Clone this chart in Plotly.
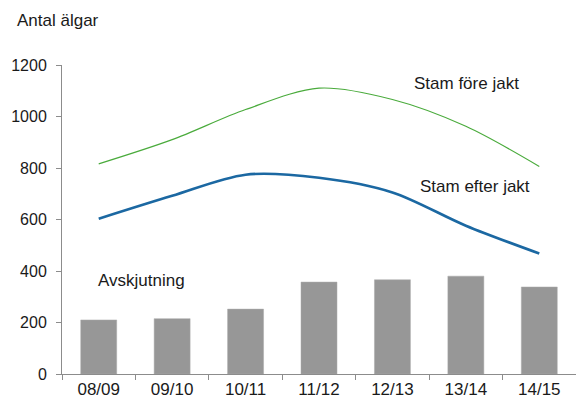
import plotly.graph_objects as go

categories = ["08/09", "09/10", "10/11", "11/12", "12/13", "13/14", "14/15"]
avskjutning = [210, 215, 252, 357, 366, 380, 338]
stam_fore = [816, 910, 1027, 1110, 1066, 962, 806]
stam_efter = [603, 692, 774, 762, 705, 576, 468]
y_ticks = [0, 200, 400, 600, 800, 1000, 1200]

font = "Liberation Sans, Arial, sans-serif"
txt = "#1a1a1a"

fig = go.Figure()
fig.add_trace(go.Bar(x=categories, y=avskjutning, marker=dict(color="#979797", line=dict(color="#aaaaaa", width=0.5)),
                     width=0.49, showlegend=False))
fig.add_trace(go.Scatter(x=categories, y=stam_fore, mode="lines",
                         line=dict(color="#4aab3c", width=1.2, shape="spline", smoothing=0.9), showlegend=False))
fig.add_trace(go.Scatter(x=categories, y=stam_efter, mode="lines",
                         line=dict(color="#1b68a2", width=2.6, shape="spline", smoothing=0.9), showlegend=False))

fig.update_layout(
    width=576, height=401,
    margin=dict(l=62, r=0, t=65, b=27),
    plot_bgcolor="white", paper_bgcolor="white",
    font=dict(family=font, size=16, color=txt),
    xaxis=dict(showline=True, linecolor="#8c8c8c", linewidth=1, ticks="outside", tickson="boundaries",
               ticklen=5, tickcolor="#8c8c8c", showgrid=False, automargin=False,
               tickfont=dict(size=17, color=txt)),
    yaxis=dict(range=[0, 1200], tickvals=y_ticks, showline=True, linecolor="#8c8c8c", linewidth=1,
               ticks="outside", ticklen=5, tickcolor="#8c8c8c", showgrid=False, zeroline=False,
               automargin=False, ticklabelstandoff=6, tickfont=dict(size=16, color=txt)),
    annotations=[
        dict(text="Antal älgar", xref="paper", yref="paper", x=(15-62)/514, y=(401-20-27)/309, xanchor="left",
             yanchor="middle", showarrow=False, font=dict(size=17, color=txt)),
        dict(text="Stam före jakt", xref="paper", yref="y", x=(466-62)/514, y=1130, xanchor="center",
             yanchor="middle", showarrow=False, font=dict(size=17, color=txt)),
        dict(text="Stam efter jakt", xref="paper", yref="y", x=(475-62)/514, y=730, xanchor="center",
             yanchor="middle", showarrow=False, font=dict(size=17, color=txt)),
        dict(text="Avskjutning", xref="paper", yref="y", x=(141-62)/514, y=365, xanchor="center",
             yanchor="middle", showarrow=False, font=dict(size=17, color=txt)),
    ],
)

fig.write_html("out.html", config={"displayModeBar": False},
               post_script="document.body.style.margin='0';document.body.style.overflow='hidden';")
